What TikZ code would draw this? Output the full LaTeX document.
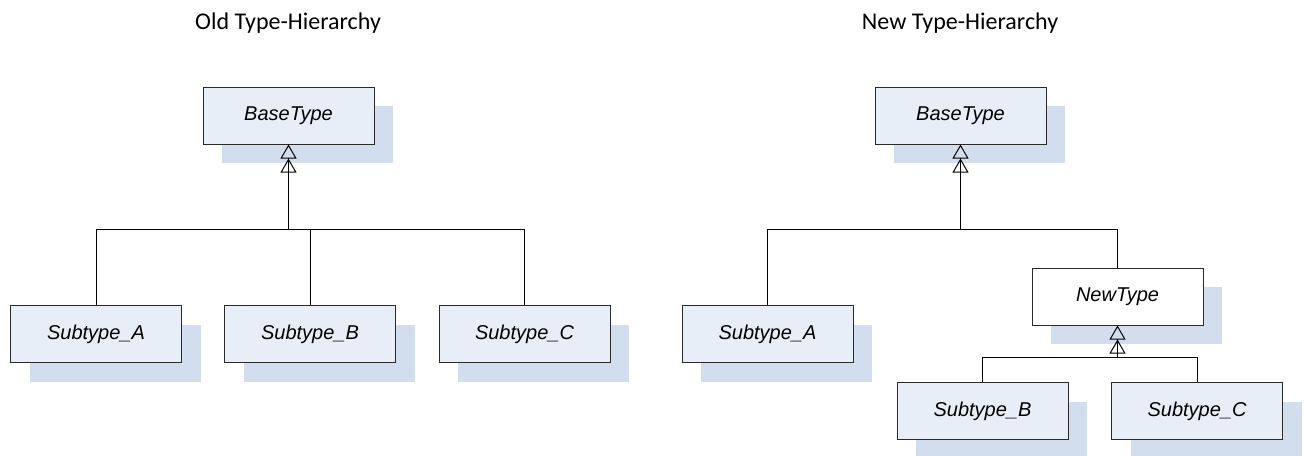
\documentclass[tikz,border=0pt]{standalone}
\usepackage{fontspec}
\setmainfont{Liberation Sans}
\newfontfamily\titlefont{Carlito}
\usetikzlibrary{arrows.meta,shadows}
\definecolor{boxfill}{HTML}{E8EEF8}
\definecolor{shadowfill}{HTML}{D2DDEE}
\definecolor{edgec}{HTML}{2A2A2A}
\tikzset{
  typebox/.style={draw=edgec, line width=0.75pt, fill=boxfill,
    minimum width=128.25pt, minimum height=42.75pt, inner sep=0pt,
    font=\fontsize{15}{18}\selectfont\itshape,
    drop shadow={shadow xshift=14.25pt, shadow yshift=-14.25pt,
      fill=shadowfill, opacity=1}},
  newbox/.style={typebox, fill=white},
  title/.style={font=\titlefont\fontsize{18}{22}\selectfont},
  link/.style={draw=black, line width=0.75pt},
  inherit/.style={link,
    -{Triangle[open,length=10.5pt,width=12pt,sep=0pt]Triangle[open,length=10.5pt,width=12pt]}},
}
\begin{document}
\begin{tikzpicture}[x=0.75pt,y=-0.75pt]
\useasboundingbox (0,0) rectangle (1305,455);
\clip (0,0) rectangle (1305,455);

% titles
\node[title] (t1) at (288,23) {Old Type-Hierarchy};
\node[title] (t2) at (960,23) {New Type-Hierarchy};

% old hierarchy
\node[typebox] (oBase) at (288.5,115.5) {BaseType};
\node[typebox] (oA) at (96,334) {Subtype\_A};
\node[typebox] (oB) at (310,334) {Subtype\_B};
\node[typebox] (oC) at (524.5,334) {Subtype\_C};
\coordinate (oJ) at (288.5,229);
\draw[link] (oA.north) -- (oA.north |- oJ) -- (oC.north |- oJ) -- (oC.north);
\draw[link] (oB.north) -- (oB.north |- oJ);
\draw[inherit] (oJ) -- (oBase.south);

% new hierarchy
\node[typebox] (nBase) at (960.5,115.5) {BaseType};
\node[typebox] (nA) at (767.5,334) {Subtype\_A};
\node[newbox] (nNew) at (1117.5,296.5) {NewType};
\node[typebox] (nB) at (982.5,411) {Subtype\_B};
\node[typebox] (nC) at (1197,411) {Subtype\_C};
\coordinate (nJ) at (960.5,229);
\coordinate (nJ2) at (1117.5,357);
\draw[link] (nA.north) -- (nA.north |- nJ) -- (nNew.north |- nJ) -- (nNew.north);
\draw[inherit] (nJ) -- (nBase.south);
\draw[link] (nB.north) -- (nB.north |- nJ2) -- (nC.north |- nJ2) -- (nC.north);
\draw[inherit] (nJ2) -- (nNew.south);
\end{tikzpicture}
\end{document}
